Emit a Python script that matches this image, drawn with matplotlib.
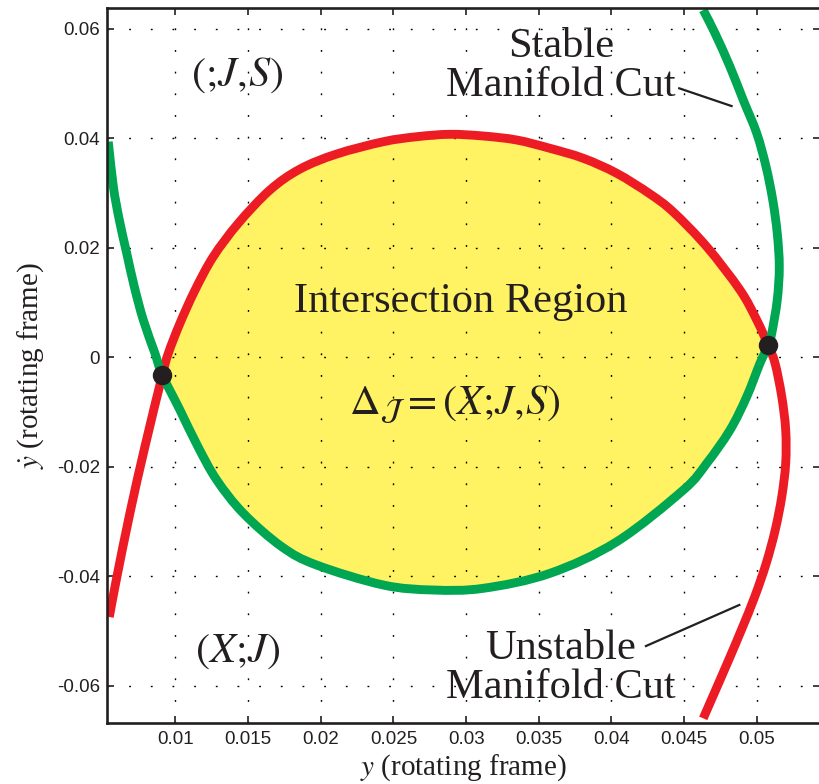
import numpy as np
import matplotlib
matplotlib.use("Agg")
import matplotlib.pyplot as plt
from matplotlib.path import Path
from matplotlib.patches import PathPatch

plt.rcParams['mathtext.fontset'] = 'stix'
plt.rcParams['font.family'] = ['Liberation Serif', 'DejaVu Serif']

# Unstable manifold cut (red)
red_x = [0.00546, 0.00594, 0.00688, 0.00791, 0.00911, 0.00952, 0.01032, 0.01136,
         0.01261, 0.01433, 0.01651, 0.01858, 0.02110, 0.02431, 0.02660, 0.02889,
         0.03118, 0.03348, 0.03577, 0.03806, 0.04036, 0.04265, 0.04425, 0.04655,
         0.04884, 0.04999, 0.05078, 0.05125, 0.05171, 0.05198, 0.05198, 0.05171,
         0.05126, 0.05064, 0.04985, 0.04893, 0.04796, 0.04696, 0.04631]
red_y = [-0.04743, -0.04068, -0.02844, -0.01633, -0.00323, 0.00073, 0.00621, 0.01229,
         0.01837, 0.02447, 0.03056, 0.03439, 0.03713, 0.03938, 0.04029, 0.04073,
         0.04042, 0.03969, 0.03817, 0.03635, 0.03361, 0.02983, 0.02654, 0.02020,
         0.01229, 0.00681, 0.00216, -0.00110, -0.00720, -0.01328, -0.01936, -0.02546,
         -0.03154, -0.03763, -0.04373, -0.04981, -0.05589, -0.06199, -0.06594]

# Stable manifold cut (green)
green_x = [0.00539, 0.00574, 0.00615, 0.00666, 0.00718, 0.00780, 0.00860, 0.00911,
           0.01032, 0.01156, 0.01285, 0.01468, 0.01732, 0.01972, 0.02431, 0.02774,
           0.03118, 0.03577, 0.04036, 0.04494, 0.04655, 0.04815, 0.04930,
           0.05021, 0.05078, 0.05102, 0.05140, 0.05154, 0.05140, 0.05109, 0.05063,
           0.04999, 0.04906, 0.04815, 0.04712, 0.04631]
green_y = [0.03938, 0.03116, 0.02508, 0.01900, 0.01290, 0.00681, 0.00073, -0.00323,
           -0.00963, -0.01633, -0.02241, -0.02849, -0.03459, -0.03794, -0.04159, -0.04250,
           -0.04219, -0.03945, -0.03368, -0.02424, -0.01936, -0.01328, -0.00720,
           -0.00110, 0.00216, 0.00438, 0.01047, 0.01655, 0.02265, 0.02873, 0.03481,
           0.04091, 0.04700, 0.05308, 0.05918, 0.06343]

# Intersection points
pts_x = [0.00911, 0.05078]
pts_y = [-0.00323, 0.00216]

x_ticks = [0.01, 0.015, 0.02, 0.025, 0.03, 0.035, 0.04, 0.045, 0.05]
x_ticklabels = ['0.01', '0.015', '0.02', '0.025', '0.03', '0.035', '0.04', '0.045', '0.05']
y_ticks = [-0.06, -0.04, -0.02, 0, 0.02, 0.04, 0.06]
y_ticklabels = ['-0.06', '-0.04', '-0.02', '0', '0.02', '0.04', '0.06']

RED = '#ED1C24'
GREEN = '#00A651'
YELLOW = '#FFF263'
TXT = '#231F20'

fig = plt.figure(figsize=(8.19, 7.84), dpi=100)
ax = fig.add_axes([107/819, 61/784, 713/819, 715/784])
ax.set_xlim(0.005303, 0.05434)
ax.set_ylim(-0.06679, 0.0638)


def smooth_path(xs, ys):
    """Catmull-Rom through the read points rendered as cubic Bezier segments."""
    P = np.column_stack([xs, ys])
    n = len(P)
    verts = [P[0]]
    codes = [Path.MOVETO]
    for i in range(n - 1):
        p0 = P[i - 1] if i > 0 else 2 * P[0] - P[1]
        p1, p2 = P[i], P[i + 1]
        p3 = P[i + 2] if i + 2 < n else 2 * P[n - 1] - P[n - 2]
        c1 = p1 + (p2 - p0) / 6.0
        c2 = p2 - (p3 - p1) / 6.0
        verts += [c1, c2, p2]
        codes += [Path.CURVE4] * 3
    return Path(np.array(verts), codes)


rx, ry = np.array(red_x), np.array(red_y)
gx, gy = np.array(green_x), np.array(green_y)

def nearest(xs, ys, px, py):
    return int(np.argmin((xs - px) ** 2 + ((ys - py) / 3) ** 2))

r0 = nearest(rx, ry, pts_x[0], pts_y[0]); r1 = nearest(rx, ry, pts_x[1], pts_y[1])
g0 = nearest(gx, gy, pts_x[0], pts_y[0]); g1 = nearest(gx, gy, pts_x[1], pts_y[1])
top = smooth_path(rx[r0:r1 + 1], ry[r0:r1 + 1])
bot = smooth_path(gx[g1:g0 - 1:-1], gy[g1:g0 - 1:-1])
fill_verts = np.concatenate([top.vertices, bot.vertices[1:], top.vertices[:1]])
fill_codes = np.concatenate([top.codes, bot.codes[1:], [Path.CLOSEPOLY]])
ax.add_patch(PathPatch(Path(fill_verts, fill_codes), facecolor=YELLOW, lw=0, zorder=0.1))

ax.add_patch(PathPatch(smooth_path(rx, ry), fill=False, edgecolor=RED, lw=6.4,
                       capstyle='butt', joinstyle='round', zorder=2))
ax.add_patch(PathPatch(smooth_path(gx, gy), fill=False, edgecolor=GREEN, lw=6.4,
                       capstyle='butt', joinstyle='round', zorder=2.1))
ax.plot(pts_x, pts_y, 'o', color=TXT, ms=13, zorder=3)

ax.set_xticks(x_ticks)
ax.set_xticklabels(x_ticklabels)
ax.set_yticks(y_ticks)
ax.set_yticklabels(y_ticklabels)
ax.set_axisbelow(True)
ax.grid(True, color='black', lw=1.0, linestyle=(0, (1.3, 14.3)))

for lab in ax.get_xticklabels() + ax.get_yticklabels():
    lab.set_family(['Liberation Sans', 'DejaVu Sans'])
    lab.set_fontsize(13.5)
    lab.set_color(TXT)
ax.tick_params(direction='in', length=5, width=1.2, top=True, right=True, colors=TXT)
ax.tick_params(axis='x', pad=6)
ax.tick_params(axis='y', pad=5)
for s in ax.spines.values():
    s.set_linewidth(1.9)
    s.set_color(TXT)

ax.set_xlabel(r'$y$ (rotating frame)', fontsize=21, color=TXT, labelpad=3)
ax.set_ylabel(r'$\dot{y}$ (rotating frame)', fontsize=21, color=TXT, labelpad=8)

fs = 30.5
ax.text(0.02965, 0.0101, 'Intersection Region', fontsize=fs, color=TXT, ha='center', va='center')
ax.text(0.02924, -0.0087, r'$\Delta_{\mathcal{J}}= (X;\!J,\!S)$', fontsize=fs, color=TXT, ha='center', va='center')
ax.text(0.01424, 0.0516, r'$(;\!J,\!S)$', fontsize=fs, color=TXT, ha='center', va='center')
ax.text(0.01431, -0.0538, r'$(X;\!J)$', fontsize=fs, color=TXT, ha='center', va='center')
ax.text(0.03653, 0.0532, 'Stable\nManifold Cut', fontsize=fs, color=TXT, ha='center', va='center', linespacing=1.0)
ax.text(0.03653, -0.0568, 'Unstable\nManifold Cut', fontsize=fs, color=TXT, ha='center', va='center', linespacing=1.0)
ax.plot([0.04466, 0.04826], [0.04913, 0.04589], color=TXT, lw=1.6, zorder=2.5)
ax.plot([0.04237, 0.04879], [-0.05273, -0.04523], color=TXT, lw=1.6, zorder=2.5)

fig.savefig('out.png', dpi=100)
